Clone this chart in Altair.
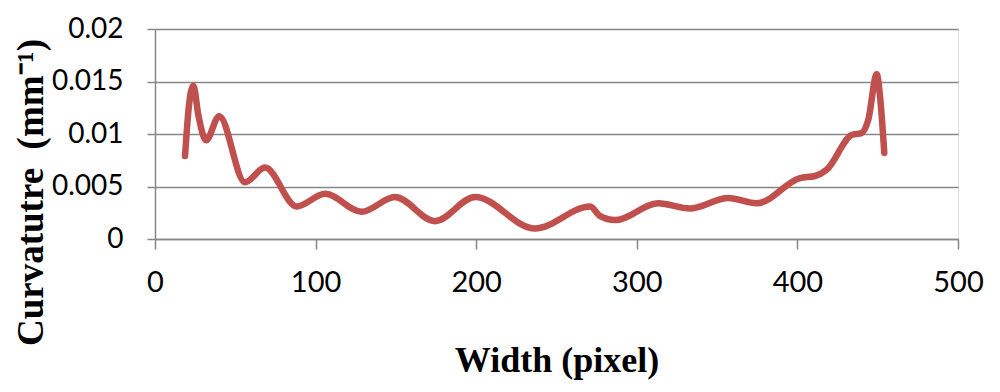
import altair as alt
import pandas as pd

width_px = [18.7, 21, 23.9, 27, 31.8, 40.0, 56.0, 68.5, 88.2, 105.9, 128.7, 149.4,
            174.3, 199.3, 236.6, 271, 277, 286.4, 313.4, 333.1, 357, 374.7, 401.6,
            411, 418.2, 433.8, 440, 444.2, 449.4, 451.5, 454.1]
curvature = [0.0079, 0.0125, 0.0146, 0.0118, 0.0094, 0.0117, 0.0054, 0.0068, 0.0031,
             0.0043, 0.0026, 0.0040, 0.0017, 0.0040, 0.0010, 0.0031, 0.0022, 0.0018,
             0.0034, 0.0029, 0.0039, 0.0034, 0.0058, 0.0060, 0.0066, 0.0099, 0.0101,
             0.0114, 0.0157, 0.0135, 0.0082]

x_ticks = [0, 100, 200, 300, 400, 500]
y_ticks = [0, 0.005, 0.01, 0.015, 0.02]

df = pd.DataFrame({"w": width_px, "c": curvature})

GRID = "#868686"

chart = alt.Chart(df).mark_line(
    interpolate="monotone", color="#C0504D", strokeWidth=6.5, strokeCap="round",
    strokeJoin="round"
).encode(
    x=alt.X("w:Q", scale=alt.Scale(domain=[0, 500], nice=False),
            axis=alt.Axis(values=x_ticks, title="Width (pixel)", grid=False,
                          domainColor=GRID, domainWidth=1.5, tickColor=GRID,
                          tickWidth=1.5, tickSize=10, labelFont="Lato",
                          labelFontSize=29, labelColor="black", labelPadding=19,
                          labelFlush=False,
                          titleFont="Liberation Serif", titleFontWeight="bold",
                          titleFontSize=36, titleColor="black",
                          titleBaseline="alphabetic", titleY=132)),
    y=alt.Y("c:Q", scale=alt.Scale(domain=[0, 0.02], nice=False),
            axis=alt.Axis(values=y_ticks, format="~g",
                          title="Curvatutre\u00a0\u00a0(mm\u207b\u00b9)",
                          grid=True, gridColor=GRID, gridWidth=1.5,
                          domainColor=GRID, domainWidth=1.5, tickColor=GRID,
                          tickWidth=1.5, tickSize=8, labelFont="Lato",
                          labelFontSize=28, labelColor="black", labelPadding=24,
                          labelFlush=False,
                          titleFont="Liberation Serif", titleFontWeight="bold",
                          titleFontSize=37, titleColor="black", titleAngle=270,
                          titleAlign="center", titleBaseline="alphabetic",
                          titleX=-113, titleY=163)),
).properties(
    width=803, height=210,
    autosize=alt.AutoSizeParams(type="none"),
    padding={"left": 147, "top": 21, "right": 30, "bottom": 144},
).configure_view(stroke=None).configure(background="white")

chart.save("out.html", embed_options={"renderer": "svg", "actions": False})
